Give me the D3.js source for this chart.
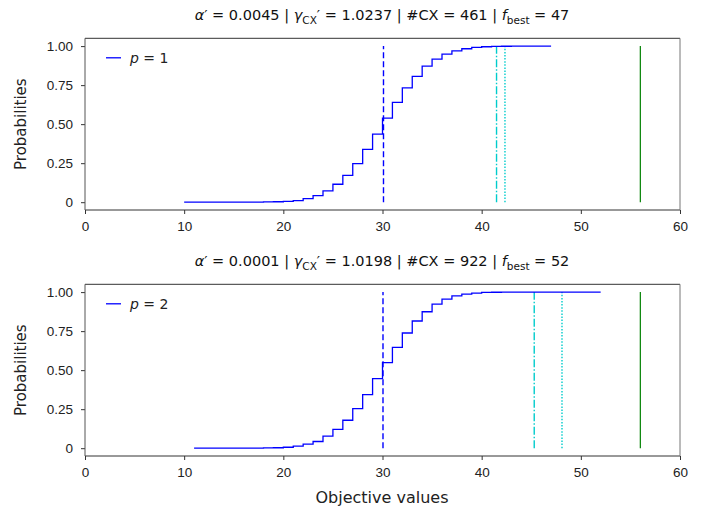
<!DOCTYPE html>
<html lang="en">
<head>
    <meta charset="UTF-8">
    <title>CDF of objective values</title>
    <script src="https://d3js.org/d3.v7.min.js"></script>
    <style>
        body { margin: 0; background: #fff; }
        svg { font-family: "DejaVu Sans", "Open Sans", sans-serif; }
    </style>
</head>
<body>
    <svg id="chart" width="703" height="513"></svg>
    <script>
        // objective values (x) and cumulative probabilities, p = 1
        const xs1 = [10, 11, 12, 13, 14, 15, 16, 17, 18, 19, 20, 21, 22, 23, 24, 25, 26, 27, 28,
                     29, 30, 31, 32, 33, 34, 35, 36, 37, 38, 39, 40, 41, 42, 43, 44, 45, 46, 47];
        const cdf1 = [0, 0, 0, 0, 0, 0, 0.0005, 0.001, 0.0015, 0.003, 0.005, 0.010, 0.023, 0.042,
                      0.072, 0.115, 0.172, 0.247, 0.338, 0.436, 0.538, 0.640, 0.732, 0.806, 0.872,
                      0.917, 0.949, 0.970, 0.983, 0.992, 0.996, 0.998, 0.999, 1, 1, 1, 1, 1];

        // p = 2
        const xs2 = [11, 12, 13, 14, 15, 16, 17, 18, 19, 20, 21, 22, 23, 24, 25, 26, 27, 28, 29,
                     30, 31, 32, 33, 34, 35, 36, 37, 38, 39, 40, 41, 42, 43, 44, 45, 46, 47, 48,
                     49, 50, 51, 52];
        const cdf2 = [0, 0, 0, 0, 0, 0.0005, 0.001, 0.002, 0.003, 0.006, 0.013, 0.026, 0.043, 0.077,
                      0.120, 0.179, 0.254, 0.343, 0.446, 0.548, 0.646, 0.738, 0.815, 0.874, 0.923,
                      0.955, 0.976, 0.987, 0.994, 0.998, 0.999, 1, 1, 1, 1, 1, 1, 1, 1, 1, 1, 1];

        // vertical reference lines: mean (dashed), dash-dot, dotted, best (solid green)
        const vlines1 = [30.1, 41.5, 42.35, 56];
        const vlines2 = [30.05, 45.3, 48.1, 56];

        const pLabels = ["1", "2"];
        const alphas = ["0.0045", "0.0001"];
        const gammas = ["1.0237", "1.0198"];
        const cxCounts = ["461", "922"];
        const fBest = ["47", "52"];

        const xTicks = [0, 10, 20, 30, 40, 50, 60];
        const yTicks = [0, 0.25, 0.5, 0.75, 1];

        const svg = d3.select("#chart");

        const lineStyles = [
            {color: "#0000ff", dash: "6,3"},
            {color: "#00cccc", dash: "8,2,1.5,2"},
            {color: "#00cccc", dash: "1.5,1.6"},
            {color: "#008000", dash: null}
        ];

        function drawPanel(top, bottom, xs, cdf, vlines, i) {
            const x = d3.scaleLinear().domain([0, 60]).range([85, 680]);
            const y = d3.scaleLinear().domain([-0.05, 1.05]).range([bottom, top]);
            const g = svg.append("g");

            // axes
            const xAxis = g.append("g").attr("transform", `translate(0,${bottom})`)
                .call(d3.axisBottom(x).tickValues(xTicks).tickSize(4).tickPadding(7).tickFormat(d3.format("d")));
            const yAxis = g.append("g").attr("transform", "translate(85,0)")
                .call(d3.axisLeft(y).tickValues(yTicks).tickSize(4).tickPadding(8)
                    .tickFormat(d => d === 0 ? "0" : d3.format(".2f")(d)));
            [xAxis, yAxis].forEach(a => {
                a.select(".domain").remove();
                a.selectAll("line").attr("stroke", "#333");
                a.selectAll("text").attr("font-size", 13.5).attr("fill", "#222");
            });

            // frame
            g.append("line").attr("x1", 85).attr("x2", 680).attr("y1", top).attr("y2", top).attr("stroke", "#333");
            g.append("line").attr("x1", 85).attr("x2", 680).attr("y1", bottom).attr("y2", bottom).attr("stroke", "#333");
            g.append("line").attr("x1", 85).attr("x2", 85).attr("y1", top).attr("y2", bottom).attr("stroke", "#555");
            g.append("line").attr("x1", 680).attr("x2", 680).attr("y1", top).attr("y2", bottom).attr("stroke", "#777");

            // vertical reference lines
            vlines.forEach((v, k) => {
                g.append("line")
                    .attr("x1", x(v)).attr("x2", x(v))
                    .attr("y1", y(0)).attr("y2", y(1))
                    .attr("stroke", lineStyles[k].color)
                    .attr("stroke-width", k === 3 ? 1.2 : 1.4)
                    .attr("stroke-dasharray", lineStyles[k].dash);
            });

            // step CDF
            const pts = xs.map((d, j) => [d, cdf[j]]);
            const line = d3.line().x(d => x(d[0])).y(d => y(d[1])).curve(d3.curveStepAfter);
            g.append("path").datum(pts)
                .attr("fill", "none").attr("stroke", "#0000ff").attr("stroke-width", 1.3)
                .attr("d", line);

            // legend
            g.append("line").attr("x1", 106).attr("x2", 121)
                .attr("y1", top + 19.5).attr("y2", top + 19.5)
                .attr("stroke", "#0000ff").attr("stroke-width", 1.3);
            const leg = g.append("text").attr("x", 130).attr("y", top + 25).attr("font-size", 14).attr("fill", "#222");
            leg.append("tspan").attr("font-style", "italic").text("p");
            leg.append("tspan").text(" = " + pLabels[i]);

            // y label
            g.append("text")
                .attr("transform", `translate(26,${(top + bottom) / 2}) rotate(-90)`)
                .attr("text-anchor", "middle").attr("font-size", 15).attr("fill", "#222")
                .text("Probabilities");

            // title
            const t = g.append("text").attr("x", 382).attr("y", top - 18)
                .attr("text-anchor", "middle").attr("font-size", 14.5).attr("fill", "#111");
            t.append("tspan").attr("font-style", "italic").text("α");
            t.append("tspan").text("′ = " + alphas[i] + " | ");
            t.append("tspan").attr("font-style", "italic").text("γ");
            t.append("tspan").attr("font-size", 10.5).attr("dy", 4).text("CX");
            t.append("tspan").attr("dy", -4).text("′ = " + gammas[i] + " | #CX = " + cxCounts[i] + " | ");
            t.append("tspan").attr("font-style", "italic").text("f");
            t.append("tspan").attr("font-size", 10.5).attr("dy", 4).text("best");
            t.append("tspan").attr("dy", -4).text(" = " + fBest[i]);
        }

        drawPanel(38.3, 210, xs1, cdf1, vlines1, 0);
        drawPanel(284.3, 456, xs2, cdf2, vlines2, 1);

        svg.append("text").attr("x", 382).attr("y", 503)
            .attr("text-anchor", "middle").attr("font-size", 16).attr("fill", "#222")
            .text("Objective values");
    </script>
</body>
</html>
